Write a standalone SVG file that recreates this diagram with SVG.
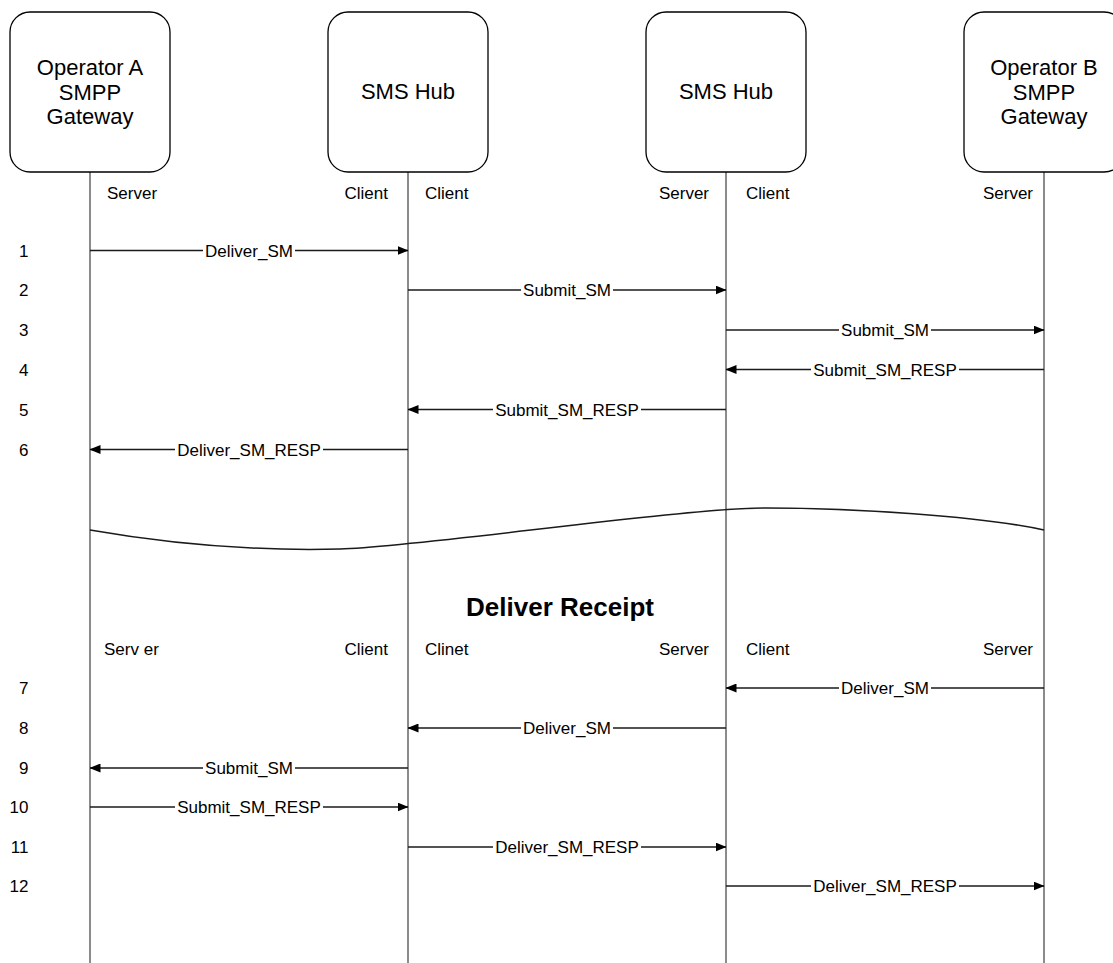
<svg xmlns="http://www.w3.org/2000/svg" width="1113" height="963" viewBox="0 0 1113 963">
  <style>
    .box { fill: #ffffff; stroke: #000000; stroke-width: 1.3; }
    .life { stroke: #4d4d4d; stroke-width: 1.3; fill: none; }
    .msg { stroke: #1a1a1a; stroke-width: 1.3; fill: none; marker-end: url(#head); }
    .wave { stroke: #1a1a1a; stroke-width: 1.5; fill: none; }
    .bg { fill: #ffffff; stroke: none; }
    .title { font-family: "Liberation Sans", Arial, Helvetica, sans-serif; font-size: 22px; fill: #000; text-anchor: middle; }
    .role { font-family: "Liberation Sans", Arial, Helvetica, sans-serif; font-size: 17px; fill: #000; }
    .num { font-family: "Liberation Sans", Arial, Helvetica, sans-serif; font-size: 17px; fill: #000; text-anchor: end; }
    .lbl { font-family: "Liberation Sans", Arial, Helvetica, sans-serif; font-size: 17px; fill: #000; text-anchor: middle; }
    .head { font-family: "Liberation Sans", Arial, Helvetica, sans-serif; font-size: 26px; font-weight: bold; fill: #000; text-anchor: middle; }
  </style>
  <defs>
    <marker id="head" viewBox="0 0 11 9" refX="10.5" refY="4.5" markerWidth="11" markerHeight="9" markerUnits="userSpaceOnUse" orient="auto">
      <path d="M0,0 L11,4.5 L0,9 Z" fill="#000"/>
    </marker>
  </defs>

  <!-- lifelines -->
  <g id="lifelines">
    <line class="life" x1="90" y1="172" x2="90" y2="963"/>
    <line class="life" x1="408" y1="172" x2="408" y2="963"/>
    <line class="life" x1="726" y1="172" x2="726" y2="963"/>
    <line class="life" x1="1044" y1="172" x2="1044" y2="963"/>
  </g>

  <!-- participants -->
  <g id="operator-a">
    <rect class="box" x="10" y="12" width="160" height="160" rx="20" ry="20"/>
    <text class="title" x="90" y="75">Operator A</text>
    <text class="title" x="90" y="99.5">SMPP</text>
    <text class="title" x="90" y="124">Gateway</text>
  </g>
  <g id="sms-hub-1">
    <rect class="box" x="328" y="12" width="160" height="160" rx="20" ry="20"/>
    <text class="title" x="408" y="99">SMS Hub</text>
  </g>
  <g id="sms-hub-2">
    <rect class="box" x="646" y="12" width="160" height="160" rx="20" ry="20"/>
    <text class="title" x="726" y="99">SMS Hub</text>
  </g>
  <g id="operator-b">
    <rect class="box" x="964" y="12" width="160" height="160" rx="20" ry="20"/>
    <text class="title" x="1044" y="75">Operator B</text>
    <text class="title" x="1044" y="99.5">SMPP</text>
    <text class="title" x="1044" y="124">Gateway</text>
  </g>

  <!-- session roles, submit phase -->
  <g id="roles-top">
    <text class="role" x="107" y="199">Server</text>
    <text class="role" x="388" y="199" text-anchor="end">Client</text>
    <text class="role" x="425" y="199">Client</text>
    <text class="role" x="709" y="199" text-anchor="end">Server</text>
    <text class="role" x="746" y="199">Client</text>
    <text class="role" x="1033" y="199" text-anchor="end">Server</text>
  </g>

  <!-- session roles, receipt phase -->
  <g id="roles-bottom">
    <text class="role" x="104" y="655">Serv er</text>
    <text class="role" x="388" y="655" text-anchor="end">Client</text>
    <text class="role" x="425" y="655">Clinet</text>
    <text class="role" x="709" y="655" text-anchor="end">Server</text>
    <text class="role" x="746" y="655">Client</text>
    <text class="role" x="1033" y="655" text-anchor="end">Server</text>
  </g>

  <!-- step numbers -->
  <g id="steps">
    <text class="num" x="28.5" y="256.5">1</text>
    <text class="num" x="28.5" y="296">2</text>
    <text class="num" x="28.5" y="336">3</text>
    <text class="num" x="28.5" y="375.5">4</text>
    <text class="num" x="28.5" y="415.5">5</text>
    <text class="num" x="28.5" y="455.5">6</text>
    <text class="num" x="28.5" y="694">7</text>
    <text class="num" x="28.5" y="734">8</text>
    <text class="num" x="28.5" y="774">9</text>
    <text class="num" x="28.5" y="813">10</text>
    <text class="num" x="28.5" y="853">11</text>
    <text class="num" x="28.5" y="892">12</text>
  </g>

  <!-- break between the two phases -->
  <path class="wave" d="M90,530 C170,544 260,551 340,549 S680,508 766,508 S980,516 1044,530"/>

  <g id="section-title">
    <text class="head" x="560" y="616">Deliver Receipt</text>
  </g>

  <!-- messages: line, label backing, label -->
  <g id="connectors">
    <line class="msg" x1="90" y1="250.5" x2="408" y2="250.5"/>
    <rect class="bg" x="203" y="241.5" width="92" height="18"/>
    <text class="lbl" x="249" y="256.5">Deliver_SM</text>

    <line class="msg" x1="408" y1="290" x2="726" y2="290"/>
    <rect class="bg" x="521" y="281" width="92" height="18"/>
    <text class="lbl" x="567" y="296">Submit_SM</text>

    <line class="msg" x1="726" y1="330" x2="1044" y2="330"/>
    <rect class="bg" x="839" y="321" width="92" height="18"/>
    <text class="lbl" x="885" y="336">Submit_SM</text>

    <line class="msg" x1="1044" y1="369.5" x2="726" y2="369.5"/>
    <rect class="bg" x="811" y="360.5" width="148" height="18"/>
    <text class="lbl" x="885" y="375.5">Submit_SM_RESP</text>

    <line class="msg" x1="726" y1="409.5" x2="408" y2="409.5"/>
    <rect class="bg" x="493" y="400.5" width="148" height="18"/>
    <text class="lbl" x="567" y="415.5">Submit_SM_RESP</text>

    <line class="msg" x1="408" y1="449.5" x2="90" y2="449.5"/>
    <rect class="bg" x="175" y="440.5" width="148" height="18"/>
    <text class="lbl" x="249" y="455.5">Deliver_SM_RESP</text>

    <line class="msg" x1="1044" y1="688" x2="726" y2="688"/>
    <rect class="bg" x="839" y="679" width="92" height="18"/>
    <text class="lbl" x="885" y="694">Deliver_SM</text>

    <line class="msg" x1="726" y1="728" x2="408" y2="728"/>
    <rect class="bg" x="521" y="719" width="92" height="18"/>
    <text class="lbl" x="567" y="734">Deliver_SM</text>

    <line class="msg" x1="408" y1="768" x2="90" y2="768"/>
    <rect class="bg" x="203" y="759" width="92" height="18"/>
    <text class="lbl" x="249" y="774">Submit_SM</text>

    <line class="msg" x1="90" y1="807" x2="408" y2="807"/>
    <rect class="bg" x="175" y="798" width="148" height="18"/>
    <text class="lbl" x="249" y="813">Submit_SM_RESP</text>

    <line class="msg" x1="408" y1="847" x2="726" y2="847"/>
    <rect class="bg" x="493" y="838" width="148" height="18"/>
    <text class="lbl" x="567" y="853">Deliver_SM_RESP</text>

    <line class="msg" x1="726" y1="886" x2="1044" y2="886"/>
    <rect class="bg" x="811" y="877" width="148" height="18"/>
    <text class="lbl" x="885" y="892">Deliver_SM_RESP</text>
  </g>
</svg>
